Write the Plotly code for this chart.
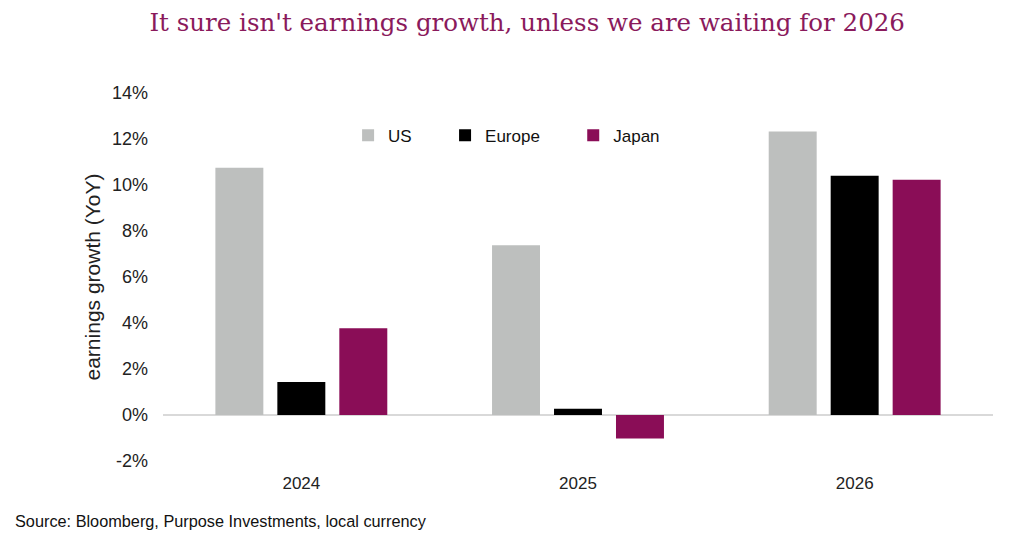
import plotly.graph_objects as go

years = ["2024", "2025", "2026"]
us = [10.75, 7.38, 12.33]
europe = [1.43, 0.27, 10.4]
japan = [3.77, -1.02, 10.23]

y_ticks = [-2, 0, 2, 4, 6, 8, 10, 12, 14]
y_labels = ["-2%", "0%", "2%", "4%", "6%", "8%", "10%", "12%", "14%"]

pad = "\u00a0" * 6

fig = go.Figure()
fig.add_trace(go.Bar(x=years, y=us, name="US" + pad, marker=dict(color="#BDBFBE", line=dict(width=0))))
fig.add_trace(go.Bar(x=years, y=europe, name="Europe" + pad, marker=dict(color="#000000", line=dict(width=0))))
fig.add_trace(go.Bar(x=years, y=japan, name="Japan", marker=dict(color="#8A0D57", line=dict(width=0))))

# page is drawn with an 8px body offset, so margins are shifted by 8
fig.update_layout(
    width=1024, height=542,
    paper_bgcolor="white", plot_bgcolor="white",
    margin=dict(l=155, r=39, t=85, b=89),
    barmode="group", bargap=0.328, bargroupgap=0.226,
    font=dict(family="Liberation Sans, Arial", size=17, color="#222222"),
    title=dict(text="It sure isn't earnings growth, unless we are waiting for 2026",
               x=0.507, xanchor="center", y=0.974, yanchor="middle",
               font=dict(family="DejaVu Serif", size=24.5, color="#8A1A5C")),
    legend=dict(orientation="h", x=0.223, xanchor="left", y=0.884, yanchor="middle",
                font=dict(size=17, color="#111111"),
                traceorder="normal", bgcolor="rgba(0,0,0,0)"),
    xaxis=dict(showgrid=False, showline=False, ticks="", tickfont=dict(size=17),
               ticklabelstandoff=10),
    yaxis=dict(range=[-2, 14], tickvals=y_ticks, ticktext=y_labels, showgrid=False,
               zeroline=True, zerolinecolor="#D9D9D9", zerolinewidth=1.5,
               showline=False, ticks="", tickfont=dict(size=18), ticklabelstandoff=14,
               title=dict(text="earnings growth (YoY)", font=dict(size=21), standoff=5)),
    annotations=[dict(text="Source: Bloomberg, Purpose Investments, local currency",
                      xref="paper", yref="paper", x=-150/830, y=-60/368,
                      xanchor="left", yanchor="middle", showarrow=False,
                      font=dict(size=16.3, color="#111111"))],
)

fig.write_html("out.html")
